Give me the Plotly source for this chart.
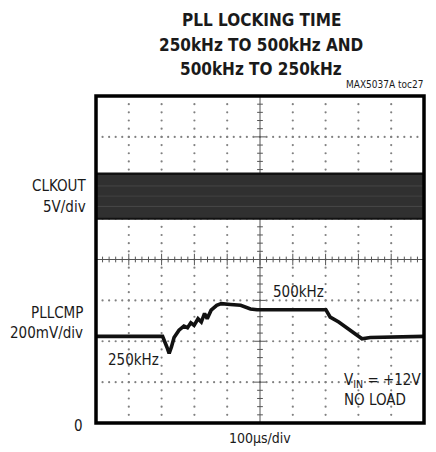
import plotly.graph_objects as go

# ---- data (in scope divisions: x 0..10, y 0..8) ----
clk_x = [0, 10]
clk_low = [5.0, 5.0]
clk_high = [6.1, 6.1]

pll_x = [0.0, 2.03, 2.16, 2.23, 2.30, 2.38, 2.53, 2.68, 2.79, 2.89, 2.99, 3.11, 3.21,
         3.31, 3.39, 3.51, 3.68, 3.82, 4.10, 4.41, 4.71, 4.91, 7.01, 7.14, 7.40,
         7.75, 8.11, 8.36, 10.0]
pll_y = [2.12, 2.12, 1.86, 1.70, 1.86, 2.09, 2.27, 2.37, 2.33, 2.45, 2.39, 2.55, 2.47,
         2.68, 2.55, 2.76, 2.88, 2.92, 2.90, 2.88, 2.79, 2.77, 2.77, 2.59, 2.47,
         2.27, 2.06, 2.09, 2.12]

title_lines = ["PLL LOCKING TIME", "250kHz TO 500kHz AND", "500kHz TO 250kHz"]

FONT = "Liberation Sans Narrow, DejaVu Sans Condensed, Arial Narrow, sans-serif"

W, H = 436, 452
L, R, T, B = 96, 12, 96, 29
PW, PH = W - L - R, H - T - B

fig = go.Figure()

# grid dots
gx, gy = [], []
for i in range(1, 10):
    if i == 5:
        continue
    for j in range(1, 40):
        gx.append(i); gy.append(j / 5)
for j in range(1, 8):
    if j == 4:
        continue
    for i in range(1, 50):
        gx.append(i / 5); gy.append(j)
fig.add_trace(go.Scatter(x=gx, y=gy, mode="markers",
                         marker=dict(size=2.2, color="#808080", line=dict(width=0)),
                         hoverinfo="skip", showlegend=False))

# center axes with ticks
tx, ty = [], []
tx += [0, 10, None]; ty += [4, 4, None]
tx += [5, 5, None]; ty += [0, 8, None]
for k in range(1, 50):
    h = 0.14 if k % 5 == 0 else 0.07
    tx += [k / 5, k / 5, None]; ty += [4 - h, 4 + h, None]
for k in range(1, 40):
    h = 0.14 if k % 5 == 0 else 0.07
    tx += [5 - h * 1.25, 5 + h * 1.25, None]; ty += [k / 5, k / 5, None]
fig.add_trace(go.Scatter(x=tx, y=ty, mode="lines", line=dict(color="#555555", width=1),
                         hoverinfo="skip", showlegend=False))

# CLKOUT band
fig.add_trace(go.Scatter(x=clk_x, y=clk_low, mode="lines", line=dict(color="#111111", width=2),
                         hoverinfo="skip", showlegend=False))
fig.add_trace(go.Scatter(x=clk_x, y=clk_high, mode="lines", line=dict(color="#111111", width=2.5),
                         fill="tonexty", fillcolor="#303030", hoverinfo="skip", showlegend=False))
for lv, op in [(5.3, 0.35), (5.55, 0.25), (5.8, 0.3)]:
    fig.add_trace(go.Scatter(x=clk_x, y=[lv, lv], mode="lines",
                             line=dict(color="rgba(120,120,120,%s)" % op, width=1),
                             hoverinfo="skip", showlegend=False))

# PLLCMP trace
fig.add_trace(go.Scatter(x=pll_x, y=pll_y, mode="lines", line=dict(color="#111111", width=3.6),
                         hoverinfo="skip", showlegend=False))

# frame (paper-referenced so it is not clipped)
fig.add_shape(type="rect", xref="paper", yref="paper", x0=0, x1=1, y0=0, y1=1,
              line=dict(color="black", width=3.5), layer="above")

ann = []
def A(text, x, y, xref="paper", yref="paper", size=14, xanchor="center", yanchor="middle"):
    ann.append(dict(text=text, x=x, y=y, xref=xref, yref=yref, showarrow=False,
                    font=dict(family=FONT, size=size, color="#1a1a1a"),
                    xanchor=xanchor, yanchor=yanchor))

def px(xp): return (xp - L) / PW
def py(yp): return 1 - (yp - T) / PH

for t, yy in zip(title_lines, [20, 45, 69]):
    A("<b>%s</b>" % t, px(261), py(yy), size=17)
A("MAX5037A toc27", px(425), py(85), size=10, xanchor="right")
A("CLKOUT", px(88), py(186), size=15, xanchor="right")
A("5V/div", px(88), py(207), size=15, xanchor="right")
A("PLLCMP", px(85), py(313), size=15, xanchor="right")
A("200mV/div", px(85), py(333), size=15, xanchor="right")
A("0", px(85), py(426), size=15, xanchor="right")
A("100µs/div", px(260), py(438), size=14)
A("500kHz", 5.34, 3.2, xref="x", yref="y", size=15, xanchor="left")
A("250kHz", 0.3, 1.55, xref="x", yref="y", size=15, xanchor="left")
A("V<sub>IN</sub> = +12V", 7.5, 1.05, xref="x", yref="y", size=15, xanchor="left")
A("NO LOAD", 7.5, 0.57, xref="x", yref="y", size=15, xanchor="left")

fig.update_layout(
    width=W, height=H,
    margin=dict(l=L, r=R, t=T, b=B, autoexpand=False),
    paper_bgcolor="white", plot_bgcolor="white",
    xaxis=dict(range=[0, 10], showgrid=False, zeroline=False, showticklabels=False, ticks="", fixedrange=True),
    yaxis=dict(range=[0, 8], showgrid=False, zeroline=False, showticklabels=False, ticks="", fixedrange=True),
    annotations=ann, showlegend=False,
)

fig.write_html("out.html", config={"displayModeBar": False},
               post_script="document.body.style.margin='0';document.body.style.overflow='hidden';")
